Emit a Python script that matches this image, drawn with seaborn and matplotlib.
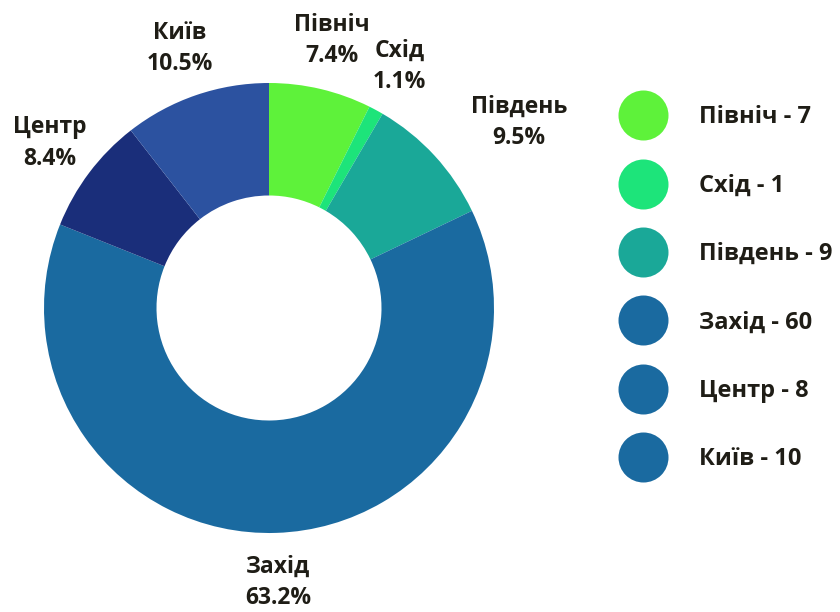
import numpy as np
import matplotlib
matplotlib.use("Agg")
import matplotlib.pyplot as plt
from matplotlib.lines import Line2D
import seaborn as sns

sns.set_theme(style="white")
plt.rcParams['font.family'] = ['Open Sans', 'DejaVu Sans']

# data
regions = ["Північ", "Схід", "Південь", "Захід", "Центр", "Київ"]
counts = [7, 1, 9, 60, 8, 10]
slice_colors = ["#5ef23a", "#1de47a", "#1aa898", "#1a6aa0", "#1a2e7a", "#2c52a0"]
legend_colors = ["#5ef23a", "#1de47a", "#1aa898", "#1a6aa0", "#1a6aa0", "#1a6aa0"]

text_color = "#1f1d16"

fig = plt.figure(figsize=(8.4, 6.12), dpi=100)
ax = fig.add_axes([44 / 840, 79 / 612, 450 / 840, 450 / 612])

wedges, _ = ax.pie(counts, colors=slice_colors, startangle=90, counterclock=False,
                   radius=1.0, wedgeprops=dict(width=0.5, linewidth=0))
ax.set_xlim(-1, 1)
ax.set_ylim(-1, 1)
ax.set_aspect("equal")

# labels outside the ring
total = sum(counts)
for w, name, c in zip(wedges, regions, counts):
    ang = np.deg2rad((w.theta1 + w.theta2) / 2)
    x, y = 1.22 * np.cos(ang), 1.22 * np.sin(ang)
    ha = "left" if np.cos(ang) > 0.6 else "center"
    ax.text(x, y, f"{name}\n{c / total * 100:.1f}%", ha=ha, va="center",
            multialignment="center", fontsize=16.5, fontweight="bold",
            color=text_color, linespacing=1.4, clip_on=False)

# legend
handles = [Line2D([0], [0], marker="o", linestyle="none", markersize=36,
                  markerfacecolor=col, markeredgewidth=0) for col in legend_colors]
labels = [f"{n} - {c}" for n, c in zip(regions, counts)]
leg = fig.legend(handles, labels, loc="upper left", bbox_to_anchor=(610 / 840, 1 - 96 / 612),
                 frameon=False, fontsize=17, labelspacing=1.88, handletextpad=1.35,
                 borderaxespad=0)
for t in leg.get_texts():
    t.set_fontweight("bold")
    t.set_color(text_color)

plt.savefig("out.png", dpi=100)
